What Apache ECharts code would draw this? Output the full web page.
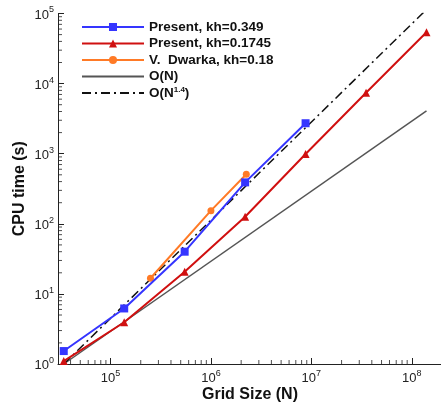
<!DOCTYPE html>
<html><head><meta charset="utf-8">
<script src="https://cdn.jsdelivr.net/npm/echarts@6/dist/echarts.min.js"></script>
<style>html,body{margin:0;padding:0;background:#fff}#c{width:441px;height:403px}</style>
</head><body><div id="c"></div>
<script>
// Grid sizes (N)
const nPresent = [34225, 136900, 547600, 2190400, 8761600, 35046400, 140185600];
const nDwarka = [250000, 1000000, 2250000];
const nRef = [34225, 140185600];
// CPU time (s)
const cpuKh0349 = [1.53, 6.2, 40, 390, 2720];
const cpuKh01745 = [1.1, 3.94, 20.7, 126, 990, 7420, 53900];
const cpuDwarka = [16.7, 154, 508];
const refON = [1, 4096];
const refON14 = [1, 114000];
// names / axis
const seriesNames = ['Present, kh=0.349', 'Present, kh=0.1745', 'V.  Dwarka, kh=0.18', 'O(N)', 'O(N^1.4)'];
const xTitle = 'Grid Size (N)';
const yTitle = 'CPU time (s)';
const xRange = [3e4, 2e8];
const yRange = [1, 1e5];

function pairs(xs, ys) { return ys.map((y, i) => [xs[i], y]); }
function minorVals(lo, hi) {
  const out = [];
  for (let e = Math.floor(Math.log10(lo)); e <= Math.ceil(Math.log10(hi)); e++) {
    for (let m = 2; m <= 9; m++) { const v = m * Math.pow(10, e); if (v > lo && v < hi) out.push(v); }
  }
  return out;
}
function powLabel(v) {
  const e = Math.round(Math.log10(v));
  if (Math.abs(Math.pow(10, e) - v) / v > 1e-6) return '';
  return '{b|10}{s|' + e + '}';
}
const FONT = 'Liberation Sans, Arial, Helvetica, sans-serif';
const labelRich = {
  b: { fontSize: 13, fontFamily: FONT, color: '#222', lineHeight: 16, verticalAlign: 'bottom' },
  s: { fontSize: 9, fontFamily: FONT, color: '#222', lineHeight: 16, verticalAlign: 'top' }
};
const chart = echarts.init(document.getElementById('c'), null, { renderer: 'canvas' });
const axisCommon = {
  type: 'log', logBase: 10,
  axisLine: { show: true, lineStyle: { color: '#222', width: 1 } },
  axisTick: { show: true, inside: true, length: 6, lineStyle: { color: '#222', width: 1 } },
  splitLine: { show: false },
  nameLocation: 'middle',
  nameMoveOverlap: false,
  nameTextStyle: { fontSize: 16, fontWeight: 'bold', fontFamily: FONT, color: '#111' }
};
const legendNoSymbol = { color: 'rgba(0,0,0,0)', borderWidth: 0 };
const minorTickSeries = (data, size, offset) => ({
  type: 'scatter', data: data, symbol: 'rect', symbolSize: size, symbolOffset: offset,
  itemStyle: { color: '#222' }, silent: true, clip: false, z: 10, animation: false,
  emphasis: { disabled: true }, tooltip: { show: false }
});
chart.setOption({
  animation: false,
  backgroundColor: '#fff',
  grid: { left: 58, top: 13.5, width: 384, height: 350.5, containLabel: false, outerBoundsMode: 'none' },
  xAxis: Object.assign({}, axisCommon, {
    min: xRange[0], max: xRange[1], name: xTitle, nameGap: 23,
    axisLabel: { formatter: powLabel, rich: labelRich, margin: 5 }
  }),
  yAxis: Object.assign({}, axisCommon, {
    min: yRange[0], max: yRange[1], name: yTitle, nameGap: 30,
    axisLabel: { formatter: powLabel, rich: labelRich, margin: 4 }
  }),
  legend: {
    orient: 'vertical', left: 76, top: 15, itemWidth: 62, itemHeight: 10, itemGap: 2.5, itemTextGap: 10,
    formatter: function (name) {
      if (name === 'O(N^1.4)') return '{t|O(N}{s|1.4}{t|)}';
      return '{t|' + name + '}';
    },
    textStyle: {
      fontSize: 13.5, fontWeight: 'bold', fontFamily: FONT, color: '#111',
      rich: {
        t: { fontSize: 13.5, fontWeight: 'bold', fontFamily: FONT, color: '#111', lineHeight: 14, verticalAlign: 'bottom' },
        s: { fontSize: 8, fontWeight: 'bold', fontFamily: FONT, color: '#111', lineHeight: 14, verticalAlign: 'top' }
      }
    },
    data: [
      seriesNames[0], seriesNames[1], seriesNames[2],
      { name: seriesNames[3], itemStyle: legendNoSymbol },
      { name: seriesNames[4], itemStyle: legendNoSymbol }
    ]
  },
  series: [
    { name: seriesNames[0], type: 'line', data: pairs(nPresent, cpuKh0349), symbol: 'rect', symbolSize: 8,
      itemStyle: { color: '#3535ff' }, lineStyle: { color: '#3535ff', width: 2 }, z: 5 },
    { name: seriesNames[1], type: 'line', data: pairs(nPresent, cpuKh01745), symbol: 'triangle', symbolSize: 8,
      itemStyle: { color: '#d01010' }, lineStyle: { color: '#d01010', width: 2 }, z: 4 },
    { name: seriesNames[2], type: 'line', data: pairs(nDwarka, cpuDwarka), symbol: 'circle', symbolSize: 7,
      itemStyle: { color: '#ff7a26' }, lineStyle: { color: '#ff7a26', width: 2 }, z: 3 },
    { name: seriesNames[3], type: 'line', data: pairs(nRef, refON), symbol: 'none',
      itemStyle: { color: '#555' }, lineStyle: { color: '#555', width: 1.5 }, z: 2 },
    { name: seriesNames[4], type: 'line', data: pairs(nRef, refON14), symbol: 'none', clip: true,
      itemStyle: { color: '#111' }, lineStyle: { color: '#111', width: 1.5, type: [9, 4, 2, 4] }, z: 2 },
    // log-spaced minor ticks (2..9 per decade), placed by the axes themselves
    minorTickSeries(minorVals(xRange[0], xRange[1]).map(v => [v, yRange[0]]), [1, 4], [0, -2]),
    minorTickSeries(minorVals(yRange[0], yRange[1]).map(v => [xRange[0], v]), [4, 1], [2, 0])
  ]
});
</script></body></html>
